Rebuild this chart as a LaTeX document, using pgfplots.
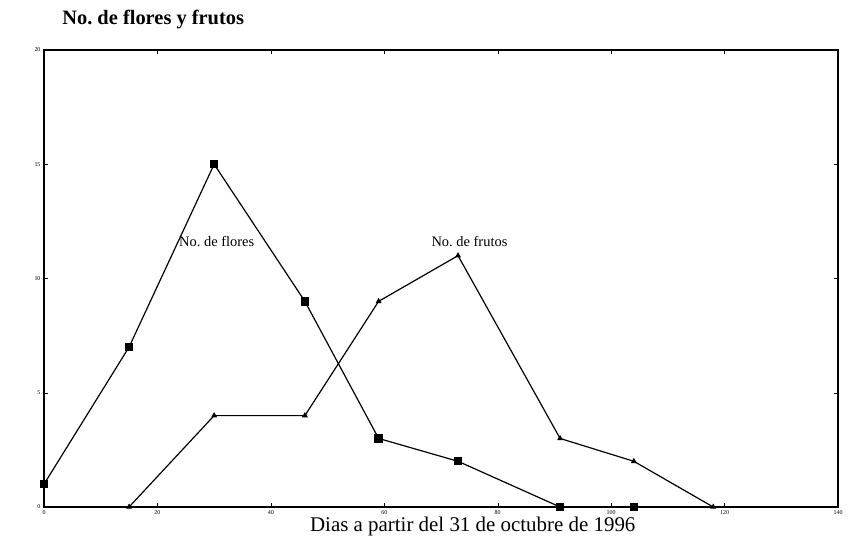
\documentclass[border=0pt]{standalone}
\usepackage{pgfplots}
\pgfplotsset{compat=1.18}
\usepackage{fontspec}
\setmainfont{Liberation Serif}
\begin{document}
\begin{tikzpicture}
\begin{axis}[
  scale only axis,
  width=794bp, height=457bp,
  xmin=0, xmax=140, ymin=0, ymax=20,
  xtick={0,20,...,140}, ytick={0,5,...,20},
  tick align=inside, tick style={black, thin},
  major tick length=4bp,
  tick label style={font=\fontsize{6}{7}\selectfont},
  /pgf/number format/assume math mode=true,
  axis line style={black, line width=1.2pt},
  xlabel={Dias a partir del 31 de octubre de 1996},
  xlabel style={font=\fontsize{21}{23}\selectfont, at={(axis description cs:0.54,0)}, anchor=north, yshift=-6bp},
  clip=false,
]
\addplot[black, line width=1.2pt, mark=square*, mark size=3.6bp] coordinates {
  (0,1) (15,7) (30,15) (46,9) (59,3) (73,2) (91,0) (104,0)
};
\addplot[black, line width=1.2pt, mark=triangle*, mark size=2.3bp] coordinates {
  (15,0) (30,4) (46,4) (59,9) (73,11) (91,3) (104,2) (118,0)
};
\node[font=\fontsize{14.5}{16}\selectfont, anchor=west, inner sep=0pt] at (axis cs:23.8,11.6) {No.\ de flores};
\node[font=\fontsize{14.5}{16}\selectfont, anchor=west, inner sep=0pt] at (axis cs:68.3,11.6) {No.\ de frutos};
\node[font=\fontsize{20.5}{22}\selectfont\bfseries, anchor=base west, inner sep=0pt] at (axis cs:3.2,21.12) {No.\ de flores y frutos};
\end{axis}
\useasboundingbox (-44bp,-45bp) rectangle (809bp,507bp);
\end{tikzpicture}
\end{document}
